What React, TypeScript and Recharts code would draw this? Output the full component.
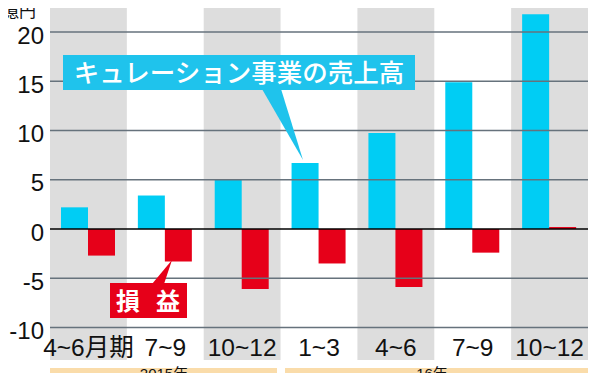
import React from 'react';
import {
  BarChart,
  Bar,
  XAxis,
  YAxis,
  ReferenceArea,
  ReferenceLine,
} from 'recharts';

// quarters (period labels) and values, 億円
const quarters = ['4~6月期', '7~9', '10~12', '1~3', '4~6', '7~9', '10~12'];
const salesValues = [2.2, 3.4, 5.0, 6.7, 9.75, 14.9, 21.8];
const profitValues = [-2.7, -3.3, -6.1, -3.5, -5.9, -2.4, 0.2];
const yTicks = [20, 15, 10, 5, 0, -5, -10];
const shadedQuarters = [0, 2, 4, 6];
const yearLabels = ['2015年', '16年'];

const data = quarters.map((q, i) => ({
  key: `${i}`,
  name: q,
  sales: salesValues[i],
  profit: profitValues[i],
}));

const NUM_FONT = '"Liberation Sans", Arial, "Noto Sans CJK JP", sans-serif';
const JP_FONT = '"Noto Sans CJK JP", sans-serif';

const SALES_COLOR = '#00cdf4';
const PROFIT_COLOR = '#e60019';
const SHADE = '#dddddd';
const GRID = '#66727c';
const BAND = '#fadcaa';
const CALLOUT_BLUE = '#1fc3ec';

const XTick = ({ x, y, payload }: any) => (
  <text
    x={x}
    y={y - 4}
    textAnchor="middle"
    fontFamily={NUM_FONT}
    fontSize={24.5}
    fill="#111"
  >
    {quarters[Number(payload.value)]}
  </text>
);

// labels, year bands and callouts drawn on top of the chart
const Overlay = () => (
  <svg
    width={597}
    height={381}
    style={{ position: 'absolute', left: 0, top: 0, pointerEvents: 'none' }}
  >
    <text x={2} y={17} fontFamily={NUM_FONT} fontSize={17} fill="#111">
      億円
    </text>

    {/* year bands */}
    <rect x={50} y={368} width={227} height={13} fill={BAND} />
    <rect x={285} y={368} width={303} height={13} fill={BAND} />
    <text x={164} y={379} textAnchor="middle" fontFamily={NUM_FONT} fontSize={15} fill="#111">
      {yearLabels[0]}
    </text>
    <text x={432} y={379} textAnchor="middle" fontFamily={NUM_FONT} fontSize={15} fill="#111">
      {yearLabels[1]}
    </text>

    {/* sales callout */}
    <polygon points="262,89 281,89 303,160" fill={CALLOUT_BLUE} />
    <rect x={63} y={55} width={352} height={35} fill={CALLOUT_BLUE} />
    <text
      x={239}
      y={82}
      textAnchor="middle"
      fontFamily={JP_FONT}
      fontWeight={500}
      fontSize={25.5}
      fill="#fff"
    >
      キュレーション事業の売上高
    </text>

    {/* profit callout */}
    <polygon points="152,284 164,284 172,260" fill={PROFIT_COLOR} />
    <rect x={110} y={283} width={77} height={35} fill={PROFIT_COLOR} />
    <text x={128} y={310} textAnchor="middle" fontFamily={JP_FONT} fontWeight={700} fontSize={24} fill="#fff">
      損
    </text>
    <text x={168} y={310} textAnchor="middle" fontFamily={JP_FONT} fontWeight={700} fontSize={24} fill="#fff">
      益
    </text>
  </svg>
);

export default function App() {
  return (
    <div
      style={{
        position: 'relative',
        width: 597,
        height: 381,
        margin: -8,
        background: '#fff',
        overflow: 'hidden',
      }}
    >
      <BarChart
        width={597}
        height={381}
        data={data}
        margin={{ top: 0, right: 9, left: 0, bottom: 0 }}
        barCategoryGap={11}
        barGap={0}
      >
        <XAxis
          dataKey="key"
          axisLine={false}
          tickLine={false}
          tickSize={0}
          tickMargin={0}
          height={21}
          interval={0}
          tick={<XTick />}
        />
        <YAxis
          type="number"
          domain={[-13.3, 23.25]}
          allowDataOverflow
          ticks={yTicks}
          width={50}
          axisLine={false}
          tickLine={false}
          tickSize={0}
          tickMargin={6}
          tick={{ fontFamily: NUM_FONT, fontSize: 24, fill: '#111', dy: 3 }}
        />
        {shadedQuarters.map((i) => (
          <ReferenceArea
            key={`shade-${i}`}
            x1={`${i}`}
            x2={`${i}`}
            y1={-13.3}
            y2={23.25}
            fill={SHADE}
            fillOpacity={1}
            stroke="none"
          />
        ))}
        {yTicks
          .filter((t) => t !== 0)
          .map((t) => (
            <ReferenceLine key={`g-${t}`} y={t} stroke={GRID} strokeWidth={1.4} />
          ))}
        <Bar dataKey="sales" fill={SALES_COLOR} isAnimationActive={false} />
        <Bar dataKey="profit" fill={PROFIT_COLOR} isAnimationActive={false} />
        <ReferenceLine y={0} stroke="#000" strokeWidth={1.6} />
      </BarChart>
      <Overlay />
    </div>
  );
}
